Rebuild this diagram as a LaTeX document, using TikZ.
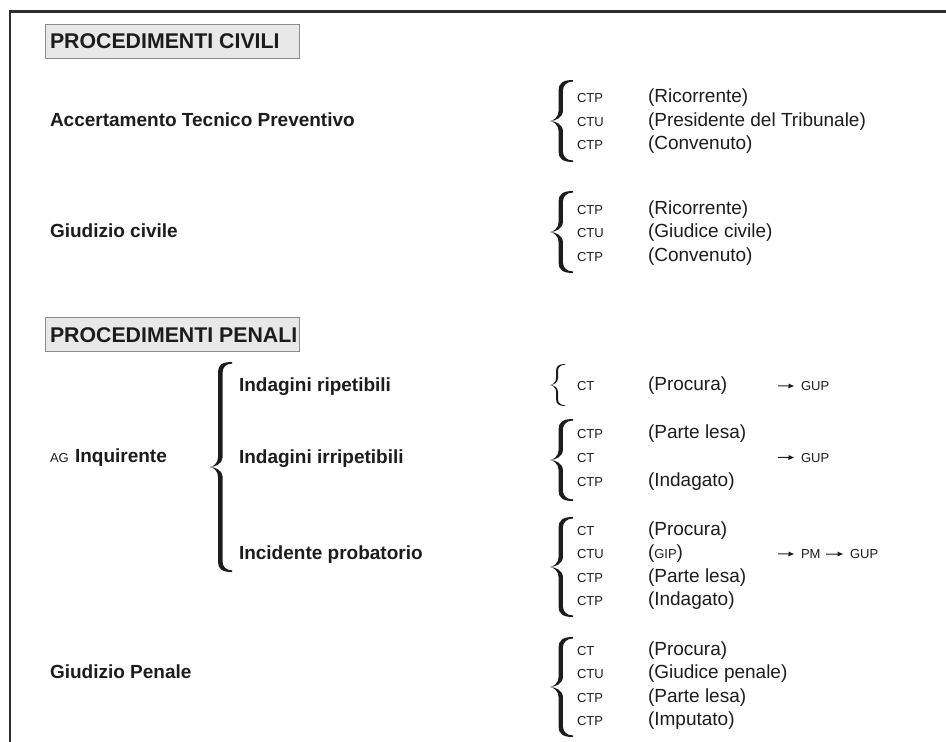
\documentclass[tikz,border=0pt]{standalone}
\usepackage{fontspec}
\setmainfont{Liberation Sans}
\usetikzlibrary{arrows.meta}
\definecolor{ink}{HTML}{1C1C1C}
\definecolor{framec}{HTML}{2E2E2E}
\definecolor{hdrfill}{HTML}{E8E8E8}
\definecolor{hdrline}{HTML}{8C8C8C}

% half of a curly brace, drawn in local coordinates (tip at x=0, top at y=0, y downwards)
\newcommand{\bracehalfpath}{%
  \fill[ink] (\brW,0) .. controls ({\brXl+0.4*\brR},0) and (\brXl,{0.3*\brR}) .. (\brXl,\brR)
   -- (\brXl,{\brM-\brR})
   .. controls (\brXl,{\brM-0.35*\brR}) and ({0.35*\brXl},{\brM-0.15}) .. (0,\brM)
   .. controls ({0.55*\brXl},{\brM}) and (\brXr,{\brM-0.3*\brR}) .. (\brXr,{\brM-\brR})
   -- (\brXr,\brR)
   .. controls (\brXr,{0.55*\brR}) and ({\brXr+0.35*\brR},{\brE}) .. (\brW,\brE)
   -- cycle;}
% #1 x of tip, #2 y top, #3 y bottom, #4 width, #5 stroke thickness
\newcommand{\drawbrace}[5]{%
  \pgfmathsetmacro{\brW}{#4}%
  \pgfmathsetmacro{\brM}{(#3-#2)/2}%
  \pgfmathsetmacro{\brXl}{0.47*#4-#5/2}%
  \pgfmathsetmacro{\brXr}{0.47*#4+#5/2}%
  \pgfmathsetmacro{\brE}{0.35*#5}%
  \pgfmathsetmacro{\brR}{min(0.45*#4,0.4*\brM)}%
  \begin{scope}[shift={(#1,#2)}]\bracehalfpath\end{scope}%
  \begin{scope}[shift={(#1,#3)},yscale=-1]\bracehalfpath\end{scope}%
}

\begin{document}
\begin{tikzpicture}[x=1pt,y=-1pt,
  every node/.style={inner sep=0pt,outer sep=0pt,anchor=base west,text=ink},
  hdr/.style={font=\fontsize{21.3}{24}\selectfont\bfseries},
  bt/.style={font=\fontsize{19}{22}\selectfont\bfseries},
  reg/.style={font=\fontsize{19}{22}\selectfont},
  sm/.style={font=\fontsize{13}{15}\selectfont},
  hdrbox/.style={fill=hdrfill,draw=hdrline,line width=1pt},
  framel/.style={draw=framec,line width=2.6pt},
  arr/.style={draw=ink,line width=1pt,-{Triangle[length=5.5pt,width=4.5pt]}}]
\useasboundingbox (0,0) rectangle (946,742);

% frame
\path[framel] (946,11.5) -- (10,11.5) -- (10,742);

% ---------- headers
\path[hdrbox] (45,24) rectangle (299,58);
\node[hdr] (h1) at (50,48.5) {PROCEDIMENTI CIVILI};
\path[hdrbox] (45,317) rectangle (299,351);
\node[hdr] (h2) at (50,342) {PROCEDIMENTI PENALI};

% ---------- Accertamento Tecnico Preventivo
\node[bt] (atp) at (50,126) {Accertamento Tecnico Preventivo};
\drawbrace{550}{80}{162}{23}{4.3}
\node[sm]  (a1l) at (577,102.5) {CTP};
\node[reg] (a1p) at (648,102.5) {(Ricorrente)};
\node[sm]  (a2l) at (577,126)   {CTU};
\node[reg] (a2p) at (648,126)   {(Presidente del Tribunale)};
\node[sm]  (a3l) at (577,149.5) {CTP};
\node[reg] (a3p) at (648,149.5) {(Convenuto)};

% ---------- Giudizio civile
\node[bt] (gc) at (50,237.5) {Giudizio civile};
\drawbrace{550}{191}{273}{23}{4.3}
\node[sm]  (c1l) at (577,214)   {CTP};
\node[reg] (c1p) at (648,214)   {(Ricorrente)};
\node[sm]  (c2l) at (577,237.5) {CTU};
\node[reg] (c2p) at (648,237.5) {(Giudice civile)};
\node[sm]  (c3l) at (577,261)   {CTP};
\node[reg] (c3p) at (648,261)   {(Convenuto)};

% ---------- AG Inquirente
\node[sm] (ag) at (50,462) {AG};
\node[bt] (inq) at (75,462) {Inquirente};
\drawbrace{210}{362}{572}{22}{4.6}
\node[bt] (rip) at (239,391) {Indagini ripetibili};
\node[bt] (irr) at (239,463) {Indagini irripetibili};
\node[bt] (inc) at (239,559) {Incidente probatorio};

% ripetibili
\drawbrace{550}{364}{406}{15}{1.9}
\node[sm]  (r1l) at (577,390.5) {CT};
\node[reg] (r1p) at (648,390.5) {(Procura)};
\node[sm]  (r1g) at (801,390.5) {GUP};
\coordinate (r1s) at (778,385.8);
\draw[arr] (r1s) -- (r1g.west -| 794,0);

% irripetibili
\drawbrace{550}{419}{501}{23}{4.3}
\node[sm]  (i1l) at (577,438) {CTP};
\node[reg] (i1p) at (648,438) {(Parte lesa)};
\node[sm]  (i2l) at (577,462) {CT};
\node[sm]  (i2g) at (801,462) {GUP};
\coordinate (i2s) at (778,457.3);
\draw[arr] (i2s) -- (i2g.west -| 794,0);
\node[sm]  (i3l) at (577,486) {CTP};
\node[reg] (i3p) at (648,486) {(Indagato)};

% incidente probatorio
\drawbrace{550}{517}{617}{23}{4.3}
\node[sm]  (p1l) at (577,535)   {CT};
\node[reg] (p1p) at (648,535)   {(Procura)};
\node[sm]  (p2l) at (577,558.5) {CTU};
\node[reg] (p2p) at (648,558.5) {({\fontsize{13}{15}\selectfont GIP})};
\node[sm]  (p2m) at (801,558.5) {PM};
\node[sm]  (p2g) at (850,558.5) {GUP};
\coordinate (p2s) at (778,553.8);
\draw[arr] (p2s) -- (p2m.west -| 794,0);
\draw[arr] (p2m.east -| 826,0) -- (p2g.west -| 843,0);
\node[sm]  (p3l) at (577,582)   {CTP};
\node[reg] (p3p) at (648,582)   {(Parte lesa)};
\node[sm]  (p4l) at (577,605.5) {CTP};
\node[reg] (p4p) at (648,605.5) {(Indagato)};

% ---------- Giudizio Penale
\node[bt] (gp) at (50,678.5) {Giudizio Penale};
\drawbrace{550}{637}{737}{23}{4.3}
\node[sm]  (g1l) at (577,655)   {CT};
\node[reg] (g1p) at (648,655)   {(Procura)};
\node[sm]  (g2l) at (577,678.5) {CTU};
\node[reg] (g2p) at (648,678.5) {(Giudice penale)};
\node[sm]  (g3l) at (577,702)   {CTP};
\node[reg] (g3p) at (648,702)   {(Parte lesa)};
\node[sm]  (g4l) at (577,725.5) {CTP};
\node[reg] (g4p) at (648,725.5) {(Imputato)};
\end{tikzpicture}
\end{document}
